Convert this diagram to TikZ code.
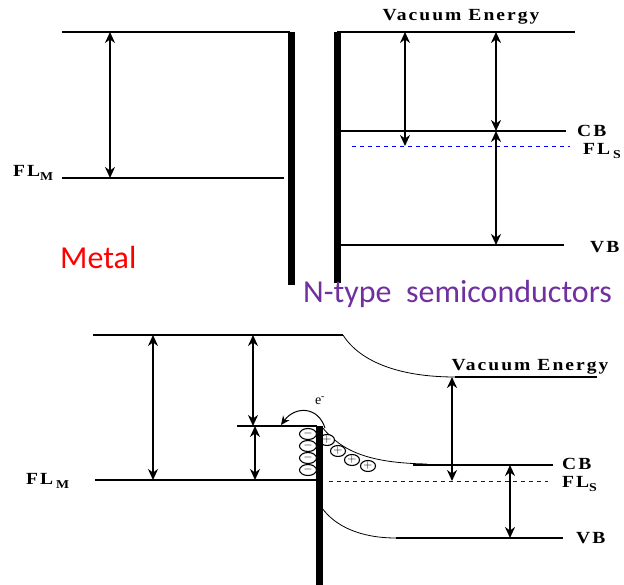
\documentclass[tikz,border=0pt]{standalone}
\usepackage{fontspec}
\setmainfont{Liberation Serif}
\newfontfamily\lblfont{Liberation Serif Bold}[FakeStretch=1.15,LetterSpace=12]
\newfontfamily\capfont{Carlito}
\usetikzlibrary{positioning,arrows.meta,shapes.geometric}
\definecolor{ntype}{RGB}{112,48,160}
\newcommand{\lowsub}[1]{\raisebox{-4pt}{\fontsize{12}{12}\selectfont #1}}

\begin{document}
\begin{tikzpicture}[x=1pt, y=-1pt,
    level/.style={line width=2pt},
    bar/.style={line width=7pt},
    bandcurve/.style={line width=0.8pt},
    fermi/.style={blue, line width=0.8pt, dash pattern=on 4pt off 4pt},
    gap/.style={{Stealth[length=11pt,width=10pt]}-{Stealth[length=11pt,width=10pt]}, line width=2pt},
    hop/.style={-{Stealth[length=9pt,width=8pt]}, line width=1pt},
    lbl/.style={font=\lblfont\fontsize{17}{17}\selectfont, inner sep=0pt},
    title/.style={font=\capfont\fontsize{32}{32}\selectfont, inner sep=0pt},
    minus/.style={ellipse, draw, fill=white, line width=1.1pt, inner sep=0pt,
                  minimum width=17pt, minimum height=11pt, text height=4pt, text depth=0pt,
                  font=\bfseries\fontsize{12}{12}\selectfont},
    plus/.style={minus, minimum width=15pt}
]
\useasboundingbox (0,0) rectangle (624,585);

% ---- before contact: metal
\coordinate (mvacA) at (110,32);
\coordinate (mfermiA) at (110,178);
\draw[level] (62,32) -- (290,32);
\draw[level] (62,178) -- (284,178);
\draw[bar] (291,32) -- (291,285);
\draw[gap] (mvacA) -- (mfermiA);
\node[lbl, anchor=base west] (flmA) at (13,177) {FL\lowsub{M}};
\node[title, red, anchor=west] (metal) at (60,258) {Metal};

% ---- before contact: n-type semiconductor
\coordinate (svacA) at (405,32);
\coordinate (sfermiA) at (405,146);
\coordinate (svacB) at (496,32);
\coordinate (scbB) at (496,131);
\coordinate (svbB) at (496,245);
\draw[bar] (337,32) -- (337,283);
\draw[level] (337,32) -- (575,32);
\draw[level] (337,131) -- (566,131);
\draw[fermi] (352,146) -- (570,146);
\draw[level] (337,245) -- (564,245);
\draw[gap] (svacA) -- (sfermiA);
\draw[gap] (svacB) -- (scbB);
\draw[gap] (scbB) -- (svbB);
\node[lbl] (vacA) at (461,17) {Vacuum Energy};
\node[lbl, anchor=west] (cbA) at (577,131) {CB};
\node[lbl, anchor=base west] (flsA) at (583,155) {FL\,\lowsub{S}};
\node[lbl, anchor=west] (vbA) at (590,247) {VB};
\node[title, ntype, anchor=west] (semi) at (303,294) {N-type\ \ semiconductors};

% ---- after contact
\coordinate (mvacC) at (153,335);
\coordinate (mfermiC) at (153,480);
\coordinate (mvacD) at (253,335);
\coordinate (barrD) at (253,426);
\coordinate (barrE) at (255,426);
\coordinate (mfermiE) at (255,480);
\coordinate (svacF) at (452,377);
\coordinate (sfermiF) at (452,481);
\coordinate (scbG) at (510,465);
\coordinate (svbG) at (510,538);
\draw[level] (93,335) -- (343,335);
\draw[bandcurve] (343,335) .. controls (360,362) and (400,377) .. (455,377);
\draw[level] (455,377) -- (597,377);
\draw[level] (237,426) -- (317,426);
\draw[level] (95,480) -- (316,480);
\draw[bandcurve] (322,427) .. controls (342,452) and (370,463) .. (427,464);
\draw[level] (413,465) -- (553,465);
\draw[fermi] (329,481) -- (548,481);
\draw[bandcurve] (322,508) .. controls (335,526) and (360,538) .. (396,538);
\draw[level] (396,538) -- (563,538);
\draw[hop] (325,428) .. controls (318,406) and (295,406) .. (281,425);
\node[font=\fontsize{14}{14}\selectfont, inner sep=0pt] (elec) at (320,401) {e\textsuperscript{-}};
\foreach \y [count=\i] in {434,446,458,470}
  \node[minus] (neg\i) at (308,\y) {$-$};
\foreach \x/\y [count=\i] in {327/440,338/451,352/460,368/466}
  \node[plus] (pos\i) at (\x,\y) {$+$};
\draw[bar] (319,426) -- (319,585);
\draw[gap] (mvacC) -- (mfermiC);
\draw[gap] (mvacD) -- (barrD);
\draw[gap] (barrE) -- (mfermiE);
\draw[gap] (svacF) -- (sfermiF);
\draw[gap] (scbG) -- (svbG);
\node[lbl] (vacC) at (530,367) {Vacuum Energy};
\node[lbl, anchor=base west] (flmC) at (26,484) {FL\,\lowsub{M}};
\node[lbl, anchor=west] (cbC) at (562,464) {CB};
\node[lbl, anchor=base west] (flsC) at (562,487) {FL\lowsub{S}};
\node[lbl, anchor=west] (vbC) at (576,538) {VB};
\end{tikzpicture}
\end{document}
